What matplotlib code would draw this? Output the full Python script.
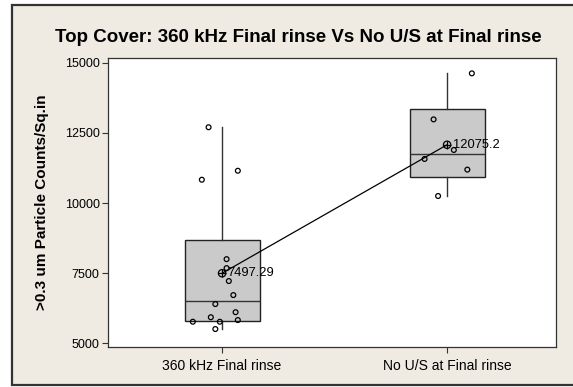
import matplotlib.pyplot as plt
from matplotlib.patches import Rectangle
import numpy as np

# ------ data ------
groups = ['360 kHz Final rinse', 'No U/S at Final rinse']

# individual part counts (>0.3 um particles per sq.in)
counts_360k = [12700, 10830, 11150, 8000, 7680, 7220, 6720, 6400,
               6110, 5930, 5830, 5770, 5770, 5510]
counts_no_us = [14620, 12980, 11890, 11570, 11190, 10250]

# small sideways jitter so the points don't sit on top of each other
jitter_360k = [-0.06, -0.09, 0.07, 0.02, 0.02, 0.03, 0.05, -0.03,
               0.06, -0.05, 0.07, -0.13, -0.01, -0.03]
jitter_no_us = [0.11, -0.06, 0.03, -0.10, 0.09, -0.04]

# box summary per group: lower whisker, Q1, median, Q3, upper whisker
box_lo = [5510, 10250]
box_q1 = [5785, 10915]
box_med = [6520, 11735]
box_q3 = [8680, 13340]
box_hi = [12700, 14620]

means = [7497.29, 12075.2]
mean_labels = ['7497.29', '12075.2']

yticks = [5000, 7500, 10000, 12500, 15000]
# ------------------

plt.rcParams['font.family'] = ['Liberation Sans', 'DejaVu Sans']

fig = plt.figure(figsize=(5.73, 3.87), dpi=100)
fig.patch.set_facecolor('white')

# beige panel with dark frame behind everything
frame = Rectangle((12 / 573, 2 / 387), 1.0, 1 - 7 / 387, transform=fig.transFigure,
                  facecolor='#EFEBE2', edgecolor='#333333', linewidth=1.6, zorder=-1)
fig.patches.append(frame)

ax = fig.add_axes([108 / 573, 40 / 387, 448 / 573, 289 / 387])
ax.set_zorder(1)
ax.set_facecolor('white')

positions = [1, 2]
stats = []
for i, name in enumerate(groups):
    stats.append(dict(label=name, whislo=box_lo[i], q1=box_q1[i], med=box_med[i],
                      q3=box_q3[i], whishi=box_hi[i], fliers=[]))

ax.bxp(stats, positions=positions, widths=0.333, showcaps=False, patch_artist=True,
       boxprops=dict(facecolor='#CACACA', edgecolor='#222222', linewidth=1.0),
       medianprops=dict(color='#333333', linewidth=1.0),
       whiskerprops=dict(color='#333333', linewidth=1.0),
       zorder=2)

# individual observations
for pos, vals, jit in [(1, counts_360k, jitter_360k), (2, counts_no_us, jitter_no_us)]:
    xs = pos + np.array(jit)
    ax.scatter(xs, vals, s=12, facecolors='none', edgecolors='black',
               linewidths=0.9, zorder=4)

# connect the means
ax.plot(positions, means, color='black', linewidth=0.9, zorder=3)
ax.scatter(positions, means, s=28, facecolors='none', edgecolors='black',
           linewidths=0.9, zorder=5)
ax.scatter(positions, means, s=28, marker='+', color='black',
           linewidths=0.9, zorder=5)
for pos, m, lab in zip(positions, means, mean_labels):
    ax.annotate(lab, (pos, m), xytext=(4, 0), textcoords='offset points',
                va='center', ha='left', fontsize=9.3, zorder=6)

ax.set_xlim(0.493, 2.484)
ax.set_ylim(4870, 15167)
ax.set_xticks(positions)
ax.set_xticklabels(groups, fontsize=10)
ax.set_yticks(yticks)
ax.set_yticklabels([str(t) for t in yticks], fontsize=9)
ax.tick_params(direction='out', length=4, width=0.8, color='#333333', pad=2)
ax.tick_params(axis='x', pad=5)
for sp in ax.spines.values():
    sp.set_color('#333333')
    sp.set_linewidth(0.9)

ax.set_ylabel('>0.3 um Particle Counts/Sq.in', fontsize=11, fontweight='bold', labelpad=11)
fig.text(298 / 573, 1 - 38 / 387, 'Top Cover: 360 kHz Final rinse Vs No U/S at Final rinse',
         ha='center', va='center', fontsize=13.5, fontweight='bold')

plt.savefig('out.png', dpi=100)
